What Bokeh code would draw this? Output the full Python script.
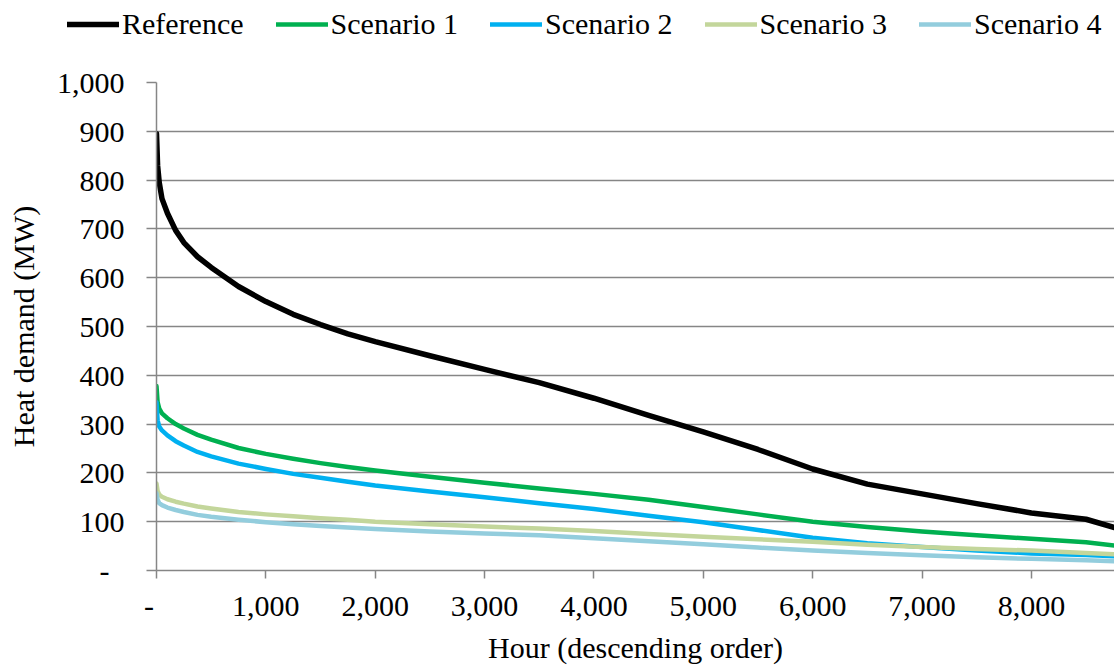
from bokeh.plotting import figure
from bokeh.models import Legend, LegendItem, FixedTicker, Range1d
from bokeh.layouts import column
from bokeh.embed import file_html
from bokeh.resources import INLINE

hours = [0, 10, 25, 50, 100, 175, 250, 375, 500, 750, 1000, 1250, 1500, 1750, 2000,
         2500, 3000, 3500, 4000, 4500, 5000, 5500, 6000, 6500, 7000, 7500, 8000, 8500, 8760]

reference = [895, 830, 795, 762, 732, 697, 672, 643, 621, 582, 551, 525, 504, 485, 469,
             440, 412, 385, 353, 318, 284, 248, 208, 177, 157, 137, 118, 105, 88]
scenario1 = [378, 345, 332, 322, 312, 300, 291, 278, 268, 251, 239, 229, 220, 212, 205,
             192, 180, 168, 157, 145, 130, 115, 100, 89, 80, 72, 65, 58, 51]
scenario2 = [345, 308, 295, 287, 277, 265, 256, 243, 234, 219, 208, 198, 190, 182, 174,
             162, 150, 138, 126, 112, 99, 83, 67, 56, 48, 41, 35, 32, 29]
scenario3 = [178, 163, 156, 151, 146, 141, 137, 131, 127, 120, 115, 111, 107, 104, 100,
             95, 90, 86, 81, 75, 69, 64, 59, 53, 48, 44, 41, 36, 33]
scenario4 = [158, 145, 138, 134, 129, 124, 120, 114, 110, 104, 99, 95, 91, 88, 85,
             80, 76, 72, 66, 60, 54, 47, 41, 36, 31, 27, 24, 21, 19]

series_names = ["Reference", "Scenario 1", "Scenario 2", "Scenario 3", "Scenario 4"]
series_values = [reference, scenario1, scenario2, scenario3, scenario4]
series_colors = ["#000000", "#00B050", "#00B0F0", "#C3D69B", "#93CDDD"]
series_widths = [5.5, 4.5, 4.5, 4.5, 4.5]

x_ticks = [0, 1000, 2000, 3000, 4000, 5000, 6000, 7000, 8000]
x_tick_labels = ["-\u00a0\u00a0", "1,000", "2,000", "3,000", "4,000", "5,000", "6,000", "7,000", "8,000"]
y_ticks = [0, 100, 200, 300, 400, 500, 600, 700, 800, 900, 1000]
y_tick_labels = ["-\u00a0\u00a0", "100", "200", "300", "400", "500", "600", "700", "800", "900", "1,000"]

FONT = "Liberation Serif"
GRAY = "#868686"

LEG_H = 48
MAIN_H = 666 - LEG_H

# ---- legend strip (series drawn outside its visible ranges; only the legend shows) ----
lg = figure(width=1114, height=LEG_H, output_backend="svg", toolbar_location=None,
            x_range=Range1d(-2, -1), y_range=Range1d(-2, -1),
            min_border_left=0, min_border_right=0, min_border_top=0, min_border_bottom=0)
lg.frame_align = False
lg.axis.visible = False
lg.grid.visible = False
lg.outline_line_color = None
leg_renderers = []
for vals, col, w in zip(series_values, series_colors, series_widths):
    leg_renderers.append(lg.line(hours, vals, line_color=col, line_width=w, line_cap="round"))

legend = Legend(
    items=[LegendItem(label=n, renderers=[r]) for n, r in zip(series_names, leg_renderers)],
    orientation="horizontal",
    location=(67, 7),
    label_text_font=FONT,
    label_text_font_size="30px",
    label_text_color="black",
    glyph_width=52,
    glyph_height=30,
    label_standoff=3,
    spacing=32,
    padding=0,
    margin=0,
    border_line_color=None,
    background_fill_alpha=0,
)
lg.add_layout(legend)

# ---- main chart ----
p = figure(width=1114, height=MAIN_H, output_backend="svg", toolbar_location=None,
           x_range=Range1d(0, 8760), y_range=Range1d(0, 1000),
           min_border_left=156, min_border_right=0, min_border_top=82 - LEG_H,
           min_border_bottom=MAIN_H - (572 - LEG_H))
p.frame_align = False
p.outline_line_color = None
p.background_fill_color = "white"

for vals, col, w in zip(series_values, series_colors, series_widths):
    p.line(hours, vals, line_color=col, line_width=w, line_join="round", line_cap="round")

p.xaxis.ticker = FixedTicker(ticks=x_ticks)
p.xaxis.major_label_overrides = dict(zip(x_ticks, x_tick_labels))
p.yaxis.ticker = FixedTicker(ticks=y_ticks)
p.yaxis.major_label_overrides = dict(zip(y_ticks, y_tick_labels))

for ax in (p.xaxis, p.yaxis):
    ax.axis_line_color = GRAY
    ax.axis_line_width = 1.5
    ax.major_tick_line_color = GRAY
    ax.major_tick_line_width = 1.5
    ax.minor_tick_line_color = None
    ax.major_tick_in = 0
    ax.major_label_text_font = FONT
    ax.major_label_text_font_size = "30px"
    ax.major_label_text_color = "black"
    ax.axis_label_text_font = FONT
    ax.axis_label_text_font_size = "30px"
    ax.axis_label_text_font_style = "normal"
    ax.axis_label_text_color = "black"

p.xaxis.major_tick_out = 8
p.xaxis.major_label_standoff = 10
p.xaxis.axis_label = "Hour (descending order)"
p.xaxis.axis_label_standoff = 6

p.yaxis.major_tick_out = 10
p.yaxis.major_label_standoff = 22
p.yaxis.axis_label = "Heat demand (MW)"
p.yaxis.axis_label_standoff = 14

p.xgrid.grid_line_color = None
p.ygrid.grid_line_color = GRAY
p.ygrid.grid_line_width = 1.5

layout = column(lg, p, spacing=0)
open("out.html", "w").write(file_html(layout, INLINE))
